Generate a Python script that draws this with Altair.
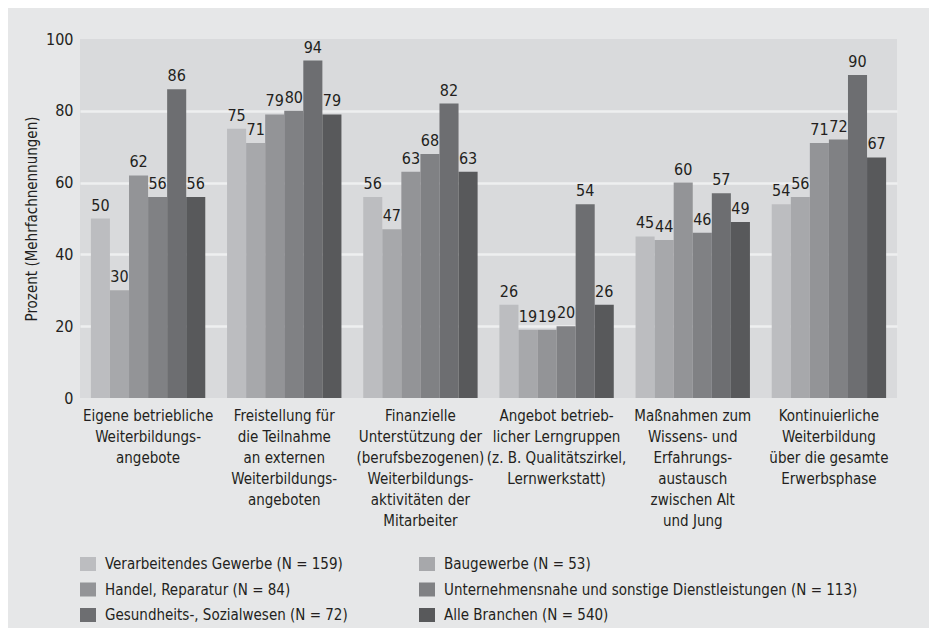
import altair as alt
import pandas as pd

categories = [
    "Eigene betriebliche|Weiterbildungs-|angebote",
    "Freistellung für|die Teilnahme|an externen|Weiterbildungs-|angeboten",
    "Finanzielle|Unterstützung der|(berufsbezogenen)|Weiterbildungs-|aktivitäten der|Mitarbeiter",
    "Angebot betrieb-|licher Lerngruppen|(z. B. Qualitätszirkel,|Lernwerkstatt)",
    "Maßnahmen zum|Wissens- und|Erfahrungs-|austausch|zwischen Alt|und Jung",
    "Kontinuierliche|Weiterbildung|über die gesamte|Erwerbsphase",
]
series = [
    "Verarbeitendes Gewerbe (N = 159)",
    "Baugewerbe (N = 53)",
    "Handel, Reparatur (N = 84)",
    "Unternehmensnahe und sonstige Dienstleistungen (N = 113)",
    "Gesundheits-, Sozialwesen (N = 72)",
    "Alle Branchen (N = 540)",
]
verarbeitendes = [50, 75, 56, 26, 45, 54]
baugewerbe = [30, 71, 47, 19, 44, 56]
handel = [62, 79, 63, 19, 60, 71]
unternehmensnahe = [56, 80, 68, 20, 46, 72]
gesundheit = [86, 94, 82, 54, 57, 90]
alle = [56, 79, 63, 26, 49, 67]
colors = ["#bcbdc0", "#a7a8ab", "#939497", "#808184", "#6d6e71", "#58595b"]

values = [verarbeitendes, baugewerbe, handel, unternehmensnahe, gesundheit, alle]
rows = []
for s, vals in zip(series, values):
    for c, v in zip(categories, vals):
        rows.append({"Kategorie": c, "Branche": s, "Wert": v})
df = pd.DataFrame(rows)

# legend is filled column by column: reorder so rows read like the reference
legend_order = [0, 2, 4, 1, 3, 5]
legend_domain = [series[i] for i in legend_order]
legend_range = [colors[i] for i in legend_order]

FONT = "DejaVu Sans Condensed, Roboto, sans-serif"
TXT = "#231f20"

base = alt.Chart(df).encode(
    x=alt.X(
        "Kategorie:N",
        sort=categories,
        scale=alt.Scale(paddingInner=0.16, paddingOuter=0.08),
        axis=alt.Axis(
            title=None,
            labelAngle=0,
            labelExpr="split(datum.label, '|')",
            labelFontSize=15,
            labelLineHeight=21,
            labelPadding=10,
            labelColor=TXT,
            labelFont=FONT,
            domain=False,
            ticks=False,
            labelLimit=300,
        ),
    ),
    xOffset=alt.XOffset("Branche:N", sort=series, scale=alt.Scale(paddingInner=0, paddingOuter=0)),
)

bars = base.mark_bar().encode(
    y=alt.Y(
        "Wert:Q",
        scale=alt.Scale(domain=[0, 100], nice=False),
        axis=alt.Axis(
            title="Prozent (Mehrfachnennungen)",
            titleFont=FONT,
            titleFontSize=15,
            titleFontWeight="normal",
            titleColor=TXT,
            titlePadding=6,
            values=[0, 20, 40, 60, 80, 100],
            labelFontSize=16,
            labelFont=FONT,
            labelColor=TXT,
            labelPadding=7,
            domain=False,
            ticks=False,
            gridColor="#eeeff0",
            gridWidth=2.5,
            gridOpacity={"condition": {"test": "datum.value === 0 || datum.value === 100", "value": 0}, "value": 1},
        ),
    ),
    color=alt.Color(
        "Branche:N",
        scale=alt.Scale(domain=legend_domain, range=legend_range),
        legend=alt.Legend(
            title=None,
            orient="none",
            legendX=0,
            legendY=517,
            columns=2,
            columnPadding=71,
            rowPadding=9.5,
            symbolType="M-1,-0.875H1V0.875H-1Z",
            symbolSize=256,
            symbolStrokeWidth=0,
            symbolOpacity=1,
            labelFontSize=15,
            labelFont=FONT,
            labelColor=TXT,
            labelOffset=9,
            labelLimit=500,
        ),
    ),
)

labels = base.mark_text(baseline="alphabetic", dy=-8, fontSize=16, font=FONT, color=TXT).encode(
    y=alt.Y("Wert:Q"),
    text=alt.Text("Wert:Q"),
)

chart = (
    alt.layer(bars, labels)
    .properties(
        width=817,
        height=359,
        background="#e6e7e8",
        padding={"left": 72, "top": 31, "right": 32, "bottom": 230},
        autosize=alt.AutoSizeParams(type="none"),
    )
    .configure_view(fill="#d9dadc", stroke=None)
)

chart.save("out.html", embed_options={"renderer": "svg", "actions": False})
